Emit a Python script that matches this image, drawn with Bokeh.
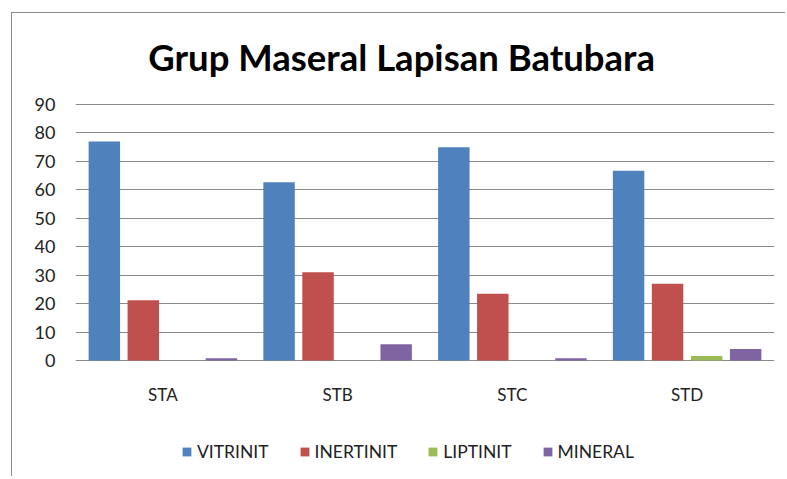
from bokeh.plotting import figure
from bokeh.models import FactorRange, Legend, LegendItem, Range1d, FixedTicker, Label
from bokeh.transform import dodge
from bokeh.core.properties import value
from bokeh.embed import file_html
from bokeh.resources import INLINE
from bokeh.models import ColumnDataSource

title_text = "Grup Maseral Lapisan Batubara"
categories = ["STA", "STB", "STC", "STD"]
series = ["VITRINIT", "INERTINIT", "LIPTINIT", "MINERAL"]
vitrinit = [77, 62.7, 75, 66.7]
inertinit = [21.2, 31, 23.5, 27]
liptinit = [0, 0, 0, 1.6]
mineral = [0.8, 5.7, 0.8, 4]
colors = ["#4F81BD", "#C0504D", "#9BBB59", "#8064A2"]
y_ticks = [0, 10, 20, 30, 40, 50, 60, 70, 80, 90]

source = ColumnDataSource(dict(cat=categories, VITRINIT=vitrinit, INERTINIT=inertinit,
                               LIPTINIT=liptinit, MINERAL=mineral))

p = figure(width=774, height=464, x_range=FactorRange(*categories, range_padding=0),
           y_range=Range1d(-40.08, 122.0), output_backend="svg", toolbar_location=None,
           min_border_left=63, min_border_right=12, min_border_top=0, min_border_bottom=3)
p.styles = {"margin-left": "11px", "margin-top": "12px",
            "border-top": "1px solid #8c8c8c", "border-left": "1px solid #8c8c8c"}

# chart title drawn inside the (extended) frame
p.add_layout(Label(x=1.866, y=106.6, text=title_text, text_align="center",
                   text_baseline="middle", text_font="Lato", text_font_style="bold",
                   text_font_size="36.5px", text_color="#000000"))

offsets = [-0.335, -0.112, 0.112, 0.335]
renderers = []
for s, off, c in zip(series, offsets, colors):
    r = p.vbar(x=dodge("cat", off, range=p.x_range), top=s, width=0.18, source=source,
               fill_color=c, line_color=None)
    renderers.append(r)

# category labels under the baseline
p.text(x="cat", y=-12.0, text="cat", source=source, text_align="center",
       text_baseline="middle", text_font=value("Lato"), text_font_size="17px",
       text_color="#222222")

p.outline_line_color = None
p.xaxis.visible = False
p.xgrid.grid_line_color = None
p.ygrid.grid_line_color = "#8a8a8a"
p.ygrid.grid_line_width = 1
p.yaxis.ticker = FixedTicker(ticks=y_ticks)
p.ygrid.ticker = FixedTicker(ticks=y_ticks)
p.yaxis.axis_line_color = None
p.yaxis.major_tick_line_color = None
p.yaxis.minor_tick_line_color = None
p.yaxis.major_tick_out = 0
p.yaxis.major_tick_in = 0
p.yaxis.major_label_standoff = 20
p.yaxis.major_label_text_font = "Lato"
p.yaxis.major_label_text_font_size = "18px"
p.yaxis.major_label_text_color = "#222222"

legend = Legend(items=[LegendItem(label=s, renderers=[r]) for s, r in zip(series, renderers)],
                orientation="horizontal", location=(106, 12))
legend.glyph_width = 11
legend.glyph_height = 11
legend.label_standoff = 5
legend.spacing = 30
legend.padding = 0
legend.margin = 0
legend.label_height = 20
legend.label_text_font = "Lato"
legend.label_text_font_size = "17.5px"
legend.label_text_color = "#222222"
legend.border_line_color = None
legend.background_fill_alpha = 0
p.add_layout(legend, "center")

open("out.html", "w").write(file_html(p, INLINE))
